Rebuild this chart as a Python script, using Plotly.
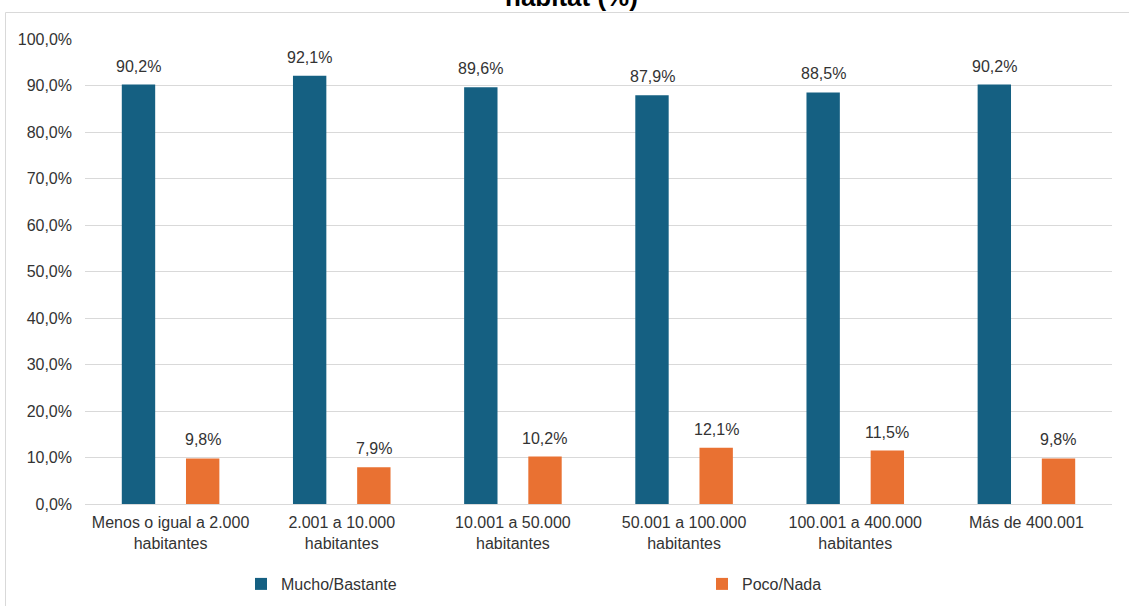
import plotly.graph_objects as go

categories = [
    "Menos o igual a 2.000<br>habitantes",
    "2.001 a 10.000<br>habitantes",
    "10.001 a 50.000<br>habitantes",
    "50.001 a 100.000<br>habitantes",
    "100.001 a 400.000<br>habitantes",
    "Más de 400.001",
]
mucho_bastante = [90.2, 92.1, 89.6, 87.9, 88.5, 90.2]
poco_nada = [9.8, 7.9, 10.2, 12.1, 11.5, 9.8]
series_names = ["Mucho/Bastante", "Poco/Nada"]
title_text = "habitat (%)"

W, H = 1129, 606
L, R, T, B = 85, 17, 39, 102
pw = W - L - R
ph = H - T - B

def px_x(p):
    return (p - L) / pw

def px_y(p):
    return (H - B - p) / ph

font_family = "Liberation Sans, Arial, sans-serif"
txt_color = "#333333"
fs = 16
colors = ["#156082", "#E97132"]

fig = go.Figure()
for name, vals, col in zip(series_names, [mucho_bastante, poco_nada], colors):
    fig.add_trace(go.Bar(
        x=categories, y=vals, name=name,
        marker=dict(color=col, line=dict(width=0)),
        hoverinfo="x+y",
    ))

# data labels above bars (grouped offsets in px)
annotations = []
for vals, shift in zip([mucho_bastante, poco_nada], [-32, 32]):
    for c, v in zip(categories, vals):
        annotations.append(dict(
            x=c, y=v, xref="x", yref="y", xshift=shift, yshift=8,
            text=f"{v:.1f}%".replace(".", ","), showarrow=False,
            yanchor="bottom", xanchor="center",
            font=dict(size=fs, color=txt_color, family=font_family),
        ))

annotations.append(dict(
    text="<b>" + title_text + "</b>", xref="paper", yref="paper",
    x=px_x(571), y=px_y(14), xanchor="center", yanchor="bottom",
    showarrow=False, font=dict(size=26, color="#000000", family=font_family),
))

fig.update_layout(
    width=W, height=H,
    margin=dict(l=L, r=R, t=T, b=B, autoexpand=False),
    paper_bgcolor="white", plot_bgcolor="white",
    separators=",.",
    barmode="group", bargap=0.25, bargroupgap=0.48,
    font=dict(family=font_family, size=fs, color=txt_color),
    showlegend=True,
    legend=dict(
        orientation="h", x=px_x(241), xanchor="left",
        y=px_y(584), yanchor="middle",
        entrywidth=416, entrywidthmode="pixels",
        itemwidth=30,
        font=dict(size=fs, color=txt_color, family=font_family),
        bgcolor="rgba(0,0,0,0)",
    ),
    xaxis=dict(
        showgrid=False, showline=True, linecolor="#d9d9d9", linewidth=1,
        ticks="", tickfont=dict(size=fs, color=txt_color),
        ticklabelstandoff=4,
        fixedrange=True,
    ),
    yaxis=dict(
        range=[0, 100], dtick=10, tickformat=".1f", ticksuffix="%",
        showgrid=True, gridcolor="#d9d9d9", gridwidth=1,
        zeroline=False, showline=False, ticks="",
        tickfont=dict(size=fs, color=txt_color),
        ticklabelstandoff=12,
        fixedrange=True,
    ),
    shapes=[dict(
        type="rect", xref="paper", yref="paper",
        x0=px_x(5.5), x1=px_x(W + 10), y0=px_y(H + 10), y1=px_y(12.5),
        line=dict(color="#d9d9d9", width=1), fillcolor="rgba(0,0,0,0)",
        layer="below",
    )],
    annotations=annotations,
)

fig.write_html(
    "out.html",
    config={"displayModeBar": False},
    post_script="document.body.style.margin='0';document.body.style.overflow='hidden';",
)
